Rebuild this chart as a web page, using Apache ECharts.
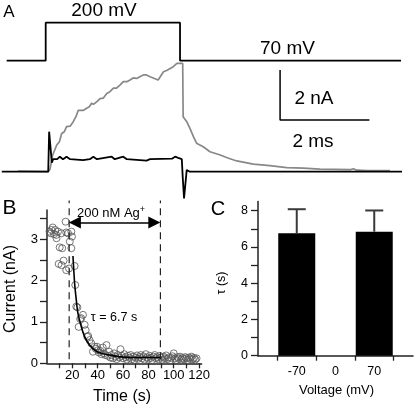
<!DOCTYPE html>
<html>
<head>
<meta charset="utf-8">
<script src="https://cdn.jsdelivr.net/npm/echarts@6/dist/echarts.min.js"></script>
<style>
html,body{margin:0;padding:0;background:#fff;}
#chart{width:414px;height:409px;}
</style>
</head>
<body>
<div id="chart"></div>
<script>
// ---------- Panel A: voltage protocol and current traces (t in ms) ----------
const voltageTrace = [[0.15,70],[1.023,70],[1.023,200],[4.03,200],[4.03,70],[8.977,70]];
const grayCurrent = [
  [0.40,0.02],[1.08,0.0],[1.12,0.1],[1.18,0.67],[1.27,1.07],[1.33,1.2],[1.38,1.53],[1.44,1.6],
  [1.49,1.8],[1.57,1.82],[1.64,2.0],[1.70,2.2],[1.75,2.45],[1.79,2.4],[1.86,2.45],[1.94,2.54],
  [2.00,2.6],[2.05,2.74],[2.10,2.7],[2.17,2.8],[2.24,2.92],[2.31,2.94],[2.39,3.13],[2.46,3.2],
  [2.54,3.34],[2.61,3.34],[2.69,3.47],[2.76,3.6],[2.84,3.6],[2.91,3.67],[2.98,3.75],[3.06,3.73],
  [3.13,3.8],[3.21,3.87],[3.28,3.87],[3.36,3.8],[3.43,3.75],[3.54,3.67],[3.58,3.67],[3.66,4.0],
  [3.73,4.05],[3.81,4.13],[3.88,4.2],[3.96,4.33],[4.09,4.33],[4.10,2.2],[4.18,2.0],[4.25,1.74],
  [4.33,1.4],[4.40,1.14],[4.55,1.0],[4.70,0.8],[4.93,0.67],[5.10,0.55],[5.30,0.43],[5.50,0.36],
  [5.67,0.3],[6.04,0.24],[6.42,0.16],[6.79,0.14],[7.16,0.1],[7.50,0.09],[7.84,0.08],[7.91,0.12],
  [7.99,0.06],[8.22,0.04],[8.73,0.04]
];
const blackCurrent = [
  [0.04,0],[1.08,0],[1.10,1.6],[1.16,0.36],[1.19,0.5],[1.28,0.5],[1.34,0.6],[1.41,0.5],[1.49,0.6],
  [1.57,0.5],[1.86,0.46],[2.01,0.5],[2.09,0.6],[2.17,0.5],[2.50,0.6],[2.57,0.5],[2.76,0.6],[2.84,0.5],
  [3.28,0.44],[3.36,0.5],[3.85,0.52],[3.92,0.6],[3.99,0.55],[4.07,0.5],[4.09,-0.2],[4.12,-1.07],
  [4.18,0.07],[4.25,0],[9.0,0]
];
const scaleBar = [[6.27,4.07],[6.27,2.07],[8.27,2.07]]; // 2 nA, 2 ms

// ---------- Panel B: current vs time (s) ----------
const currentPoints = [
  [2,3.18],[3,3.14],[3.5,3.22],[4.5,3.28],[5.5,3.12],[6.5,3.22],[7.3,3.1],[7.5,3.02],[8.7,3.18],
  [9.2,2.4],[10,2.8],[11.3,3.14],[11.5,2.37],[12,2.78],[13.1,2.48],[14.7,3.42],[15.2,3.16],[15.2,2.25],
  [16.6,3.14],[17.4,2.29],[18,2.94],[19.2,3.18],[19.7,3.06],[19.2,2.78],
  [21.8,2.35],[22.3,1.89],[23.1,1.37],[24,1.35],[25,0.88],[26.2,1.07],[27,1.09],[28.4,1.17],
  [29.7,0.93],[30.5,0.8],[31.8,0.64],[32.5,0.66],[33.6,0.56],[35,0.48],[36.3,0.28],[37.6,0.4],
  [38.5,0.35],[39.5,0.4],[40.3,0.32],[41,0.26],[42,0.3],[43,0.22],[44,0.38],[45,0.24],[46,0.2],
  [47,0.44],[48,0.18],[49,0.28],[50,0.14],[51,0.2],[52,0.12],[53,0.24],[54,0.16],[55,0.1],[56,0.2],
  [57,0.14],[58,0.34],[59,0.18],[60,0.12],[61,0.22],[62,0.15],[63,0.09],[64,0.18],[65,0.13],
  [66,0.2],[67,0.1],[68,0.16],[69,0.08],[70,0.14],[71,0.19],[72,0.11],[73,0.15],[74,0.2],[75,0.12],
  [76,0.17],[77,0.09],[78,0.22],[79,0.14],[80,0.11],[81,0.18],[82,0.13],[83,0.08],[84,0.16],
  [85,0.2],[86,0.12],[87,0.15],[88,0.1],[89,0.18],[90,0.14],[91,0.09],[92,0.16],[93,0.12],
  [94,0.19],[95,0.1],[96,0.14],[97,0.07],[98,0.13],[99,0.17],[100,0.24],[101,0.12],[102,0.08],
  [103,0.15],[104,0.11],[105,0.16],[106,0.09],[107,0.13],[108,0.1],[109,0.15],[110,0.12],
  [111,0.08],[112,0.14],[113,0.11],[114,0.16],[115,0.1],[116,0.13],[117,0.09],[118,0.12]
];
const fitCurve = [
  [20.5,2.59],[21.8,1.93],[23.1,1.53],[24.4,1.21],[27.1,0.88],[29.7,0.64],[33.6,0.44],
  [37.6,0.32],[42.9,0.24],[49.4,0.2],[60,0.15],[70,0.14],[80,0.14],[90.2,0.14]
];
const agOn = 17.5, agOff = 89.5;            // application window (s)
const dashTop = 3.93, dashBottom = 0.1;
const arrowLevel = 3.4;
const timeTicks = [10,20,30,40,50,60,70,80,90,100,110,120];
const timeLabels = [20,40,60,80,100,120];
const currentTicks = [0,0.5,1,1.5,2,2.5,3,3.5];
const currentLabels = [0,1,2,3];

// ---------- Panel C: tau vs voltage ----------
const tauVoltage = [-70, 70];
const tauMean = [6.75, 6.84];
const tauSEM = [1.33, 1.17];
const voltLabels = [-70, 0, 70];
const voltTicks = [-105, -35, 35, 105];
const tauTicks = [0,1,2,3,4,5,6,7,8];
const tauLabels = [0,2,4,6,8];

const FONT = 'Liberation Sans, Arial, sans-serif';
const axisColor = '#222';

const chart = echarts.init(document.getElementById('chart'), null, {renderer:'canvas'});

const txt = (x, y, text, size, extra) => Object.assign({
  type:'text', x:x, y:y,
  style:{text:text, fill:'#000', font: size + 'px ' + FONT, align:'center', verticalAlign:'middle'}
}, extra || {});

const option = {
  animation:false,
  backgroundColor:'#fff',
  grid:[
    {left:0, top:0, width:414, height:200},
    {left:47, top:210.1, width:154.6, height:153.2},
    {left:258, top:201.6, width:155, height:154.1}
  ],
  xAxis:[
    {gridIndex:0, type:'value', min:0, max:9.268, show:false},
    {gridIndex:1, type:'value', min:0, max:122, interval:10,
      axisLine:{onZero:false, lineStyle:{color:axisColor, width:1.5}},
      axisTick:{customValues:timeTicks, length:5, lineStyle:{color:axisColor, width:1.3}},
      axisLabel:{customValues:timeLabels, color:'#000', fontSize:13, fontFamily:FONT, margin:6},
      splitLine:{show:false}},
    {gridIndex:2, type:'value', min:-140, max:140, interval:35,
      axisLine:{onZero:false, lineStyle:{color:axisColor, width:1.5}},
      axisTick:{customValues:voltTicks, length:5, lineStyle:{color:axisColor, width:1.3}},
      axisLabel:{customValues:voltLabels, color:'#000', fontSize:12.5, fontFamily:FONT, margin:9},
      splitLine:{show:false}}
  ],
  yAxis:[
    {gridIndex:0, type:'value', min:-1.132, max:6.868, show:false},
    {gridIndex:0, type:'value', min:-406.5, max:277.7, show:false},
    {gridIndex:1, type:'value', min:0, max:3.7, interval:0.5,
      axisLine:{show:true, onZero:false, lineStyle:{color:axisColor, width:1.5}},
      axisTick:{show:true, customValues:currentTicks, length:7, lineStyle:{color:axisColor, width:1.3}},
      axisLabel:{customValues:currentLabels, color:'#000', fontSize:13, fontFamily:FONT, margin:9},
      splitLine:{show:false}},
    {gridIndex:2, type:'value', min:0, max:8.5, interval:1,
      axisLine:{show:true, onZero:false, lineStyle:{color:axisColor, width:1.5}},
      axisTick:{show:true, customValues:tauTicks, length:7, lineStyle:{color:axisColor, width:1.3}},
      axisLabel:{customValues:tauLabels, color:'#000', fontSize:12.5, fontFamily:FONT, margin:10},
      splitLine:{show:false}}
  ],
  series:[
    {type:'line', xAxisIndex:0, yAxisIndex:1, data:voltageTrace, symbol:'none',
      lineStyle:{color:'#000', width:1.8}},
    {type:'line', xAxisIndex:0, yAxisIndex:0, data:grayCurrent, symbol:'none',
      lineStyle:{color:'#888', width:1.7}},
    {type:'line', xAxisIndex:0, yAxisIndex:0, data:blackCurrent, symbol:'none',
      lineStyle:{color:'#000', width:1.8}},
    {type:'line', xAxisIndex:0, yAxisIndex:0, data:scaleBar, symbol:'none',
      lineStyle:{color:'#000', width:1.5}},
    // Panel B
    {type:'scatter', xAxisIndex:1, yAxisIndex:2, data:currentPoints, symbol:'circle', symbolSize:7,
      itemStyle:{color:'rgba(0,0,0,0)', borderColor:'#555', borderWidth:1}},
    {type:'line', xAxisIndex:1, yAxisIndex:2, data:fitCurve, symbol:'none', smooth:0.3,
      lineStyle:{color:'#000', width:1.6}, z:3},
    {type:'line', xAxisIndex:1, yAxisIndex:2, clip:false, symbol:'none',
      data:[[agOn,dashBottom],[agOn,dashTop],null,[agOff,dashBottom],[agOff,dashTop]],
      connectNulls:false,
      lineStyle:{color:'#222', width:1.2, type:[7,5]},
      markLine:{silent:true, symbol:['triangle','triangle'], symbolSize:12, label:{show:false},
        lineStyle:{color:'#000', width:1.6, type:'solid'},
        itemStyle:{color:'#000'},
        data:[[{coord:[agOn+4.5, arrowLevel]},{coord:[agOff-4.8, arrowLevel]}]]}},
    // Panel C
    {type:'bar', xAxisIndex:2, yAxisIndex:3, barWidth:37,
      data:tauVoltage.map((v,i)=>[v,tauMean[i]]), itemStyle:{color:'#000'}},
    {type:'custom', xAxisIndex:2, yAxisIndex:3, z:3,
      data:tauVoltage.map((v,i)=>[v,tauMean[i],tauMean[i]+tauSEM[i]]),
      renderItem:function(params, api){
        const p0 = api.coord([api.value(0), api.value(1)]);
        const p1 = api.coord([api.value(0), api.value(2)]);
        const st = {stroke:'#3a3a3a', lineWidth:2};
        return {type:'group', children:[
          {type:'line', shape:{x1:p0[0], y1:p0[1], x2:p1[0], y2:p1[1]}, style:st},
          {type:'line', shape:{x1:p1[0]-9, y1:p1[1], x2:p1[0]+9, y2:p1[1]}, style:st}
        ]};
      }}
  ],
  graphic:[
    txt(9, 12.5, 'A', 17),
    txt(104, 10.5, '200 mV', 19),
    txt(287.5, 48.8, '70 mV', 19),
    txt(314, 98.8, '2 nA', 19),
    txt(313, 141.5, '2 ms', 19),
    txt(9.5, 208.5, 'B', 21),
    txt(218, 209, 'C', 20),
    {type:'text', x:111, y:213.5, style:{text:'200 nM Ag{sup|+}', fill:'#000',
      font:'13px ' + FONT, align:'center', verticalAlign:'middle',
      rich:{sup:{fontSize:9, fontFamily:FONT, fill:'#000', padding:[0,0,8,0]}}}},
    txt(114, 318, 'τ = 6.7 s', 12.5),
    txt(11, 289, 'Current (nA)', 16, {rotation:Math.PI/2}),
    txt(122, 397, 'Time (s)', 16),
    txt(336.5, 390.5, 'Voltage (mV)', 13),
    txt(221.5, 283, 'τ (s)', 12.5, {rotation:Math.PI/2})
  ]
};
chart.setOption(option);
</script>
</body>
</html>
